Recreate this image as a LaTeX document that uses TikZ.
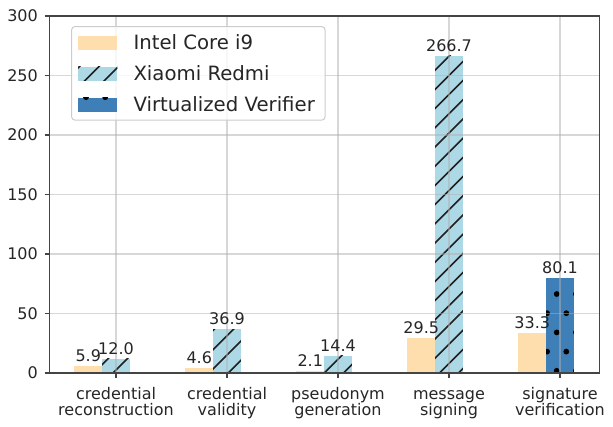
\documentclass[tikz,border=0pt]{standalone}
\usepackage{fontspec}
\setmainfont{DejaVu Sans}
\definecolor{intel}{HTML}{FFDEAD}
\definecolor{redmi}{HTML}{ADD8E6}
\definecolor{verif}{HTML}{3F7FB7}
\definecolor{ink}{HTML}{262626}
\definecolor{spine}{HTML}{444444}
\definecolor{gridc}{HTML}{B0B0B0}
\definecolor{legframe}{HTML}{CCCCCC}

% slash hatching clipped to a rectangle: x1,y1,x2,y2,phase
\newcommand\slashfill[5]{%
  \begin{scope}
    \clip (#1,#2) rectangle (#3,#4);
    \foreach \k in {-30,...,30}{
      \pgfmathsetmacro\cc{#5+19.2*\k}
      \draw[hatchline] (\cc-450,450) -- (\cc,0);
    }
  \end{scope}}

% one bar of the Xiaomi series: left, top, right
\newcommand\redmibar[3]{%
  \fill[redmi] (#1,#2) rectangle (#3,373);
  \slashfill{#1}{#2}{#3}{373}{486}}

\begin{document}
\begin{tikzpicture}[x=1pt,y=-1pt,
  hatchline/.style={line width=1.6pt,color=black!88},
  dot/.style={fill=black},
  gridline/.style={line width=1.3pt,color=gridc,opacity=0.5},
  tickmark/.style={line width=1.1pt,color=spine},
  ticklabel/.style={font=\fontsize{16}{19.2}\selectfont,text=ink,inner sep=0pt},
  barlabel/.style={font=\fontsize{16}{19.2}\selectfont,text=ink,inner sep=0pt,anchor=base},
  legendtext/.style={font=\fontsize{19.7}{23}\selectfont,text=ink,inner sep=0pt,anchor=base west}]

\useasboundingbox (0,0) rectangle (613,426);
\fill[white] (0,0) rectangle (613,426);

% Intel Core i9 bars
\fill[intel] (74.375,365.98) rectangle (102.125,373);
\fill[intel] (185.375,367.53) rectangle (213.125,373);
\fill[intel] (296.375,370.50) rectangle (324.125,373);
\fill[intel] (407.375,337.90) rectangle (435.125,373);
\fill[intel] (518.375,333.37) rectangle (546.125,373);

% Xiaomi Redmi bars
\redmibar{102.125}{358.72}{129.875}
\redmibar{213.125}{329.09}{240.875}
\redmibar{324.125}{355.86}{351.875}
\redmibar{435.125}{55.63}{462.875}

% Virtualized Verifier bar with dot hatching
\fill[verif] (546.125,277.68) rectangle (573.875,373);
\begin{scope}
  \clip (546.125,277.68) rectangle (573.875,373);
  \foreach \px/\py in {556.7/294,575.9/294,556.7/332.4,575.9/332.4,556.7/370.8,575.9/370.8,547.1/313.2,566.3/313.2,547.1/351.6,566.3/351.6}
    \fill[dot] (\px,\py) circle[radius=2.9pt];
\end{scope}

% grid
\foreach \gx in {116,227,338,449,560}
  \draw[gridline] (\gx,16) -- (\gx,373);
\foreach \gy in {313.5,254,194.5,135,75.5}
  \draw[gridline] (49.5,\gy) -- (599.5,\gy);

% axes frame
\draw[line width=1.2pt,color=spine] (49.5,16) rectangle (599.5,373);

% y ticks and labels
\foreach \gy/\lab/\nm in {373/0/y0,313.5/50/y50,254/100/y100,194.5/150/y150,135/200/y200,75.5/250/y250,16/300/y300}{
  \draw[tickmark] (44.5,\gy) -- (49.5,\gy);
  \node[ticklabel,anchor=east] (\nm) at (38,\gy) {\lab};
}

% x ticks and category labels
\foreach \gx in {116,227,338,449,560}
  \draw[tickmark] (\gx,373) -- (\gx,378);
\node[ticklabel,anchor=base] (c1a) at (116,399) {credential};
\node[ticklabel,anchor=base] (c1b) at (116,415.5) {reconstruction};
\node[ticklabel,anchor=base] (c2a) at (227,399) {credential};
\node[ticklabel,anchor=base] (c2b) at (227,415.5) {validity};
\node[ticklabel,anchor=base] (c3a) at (338,399) {pseudonym};
\node[ticklabel,anchor=base] (c3b) at (338,415.5) {generation};
\node[ticklabel,anchor=base] (c4a) at (449,399) {message};
\node[ticklabel,anchor=base] (c4b) at (449,415.5) {signing};
\node[ticklabel,anchor=base] (c5a) at (560,399) {signature};
\node[ticklabel,anchor=base] (c5b) at (560,415.5) {verification};

% value labels above the bars
\node[barlabel] (v1i) at (88.25,361.5) {5.9};
\node[barlabel] (v2i) at (199.25,363.0) {4.6};
\node[barlabel] (v3i) at (310.25,366.0) {2.1};
\node[barlabel] (v4i) at (421.25,333.4) {29.5};
\node[barlabel] (v5i) at (532.25,328.9) {33.3};
\node[barlabel] (v1r) at (116,354.2) {12.0};
\node[barlabel] (v2r) at (227,324.6) {36.9};
\node[barlabel] (v3r) at (338,351.4) {14.4};
\node[barlabel] (v4r) at (449,51.1) {266.7};
\node[barlabel] (v5v) at (560,273.2) {80.1};

% legend
\draw[line width=1pt,color=legframe,fill=white,fill opacity=0.8,rounded corners=3pt]
  (71.7,26.7) rectangle (325,120);
\fill[intel] (78,36.3) rectangle (117.3,50.3);
\fill[redmi] (78,66.7) rectangle (117.3,80.7);
\begin{scope}
  \clip (78,66.7) rectangle (117.3,80.7);
  \foreach \cc in {146,165.5,185}
    \draw[hatchline] (\cc-450,450) -- (\cc,0);
\end{scope}
\fill[verif] (78,97.7) rectangle (117.3,111.7);
\begin{scope}
  \clip (78,97.7) rectangle (117.3,111.7);
  \foreach \px in {86,105.2}
    \fill[dot] (\px,97.2) circle[radius=2.9pt];
\end{scope}
\node[legendtext] (l1) at (133.3,49.8) {Intel Core i9};
\node[legendtext] (l2) at (133.3,80.2) {Xiaomi Redmi};
\node[legendtext] (l3) at (133.3,111.2) {Virtualized Verifier};
\end{tikzpicture}
\end{document}
